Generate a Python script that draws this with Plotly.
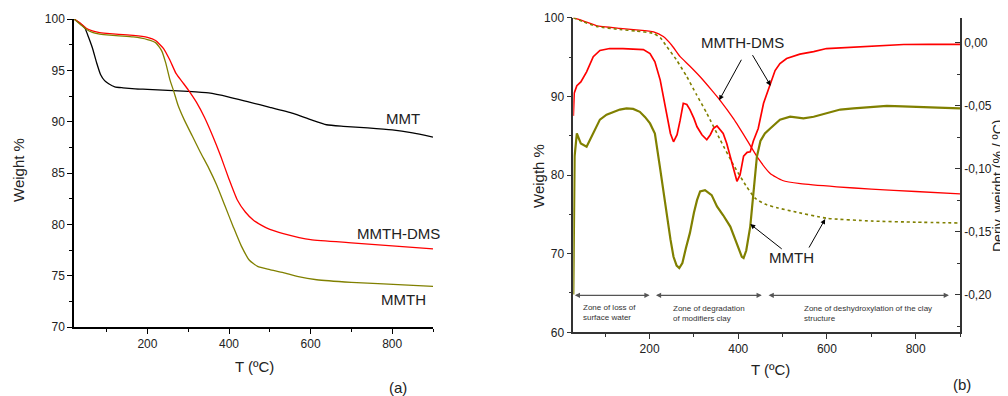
import plotly.graph_objects as go

# ---------------- Panel (a): TGA curves ----------------
T_MMT = [20, 40, 47, 55, 65, 75, 85, 95, 105, 120, 140, 170, 200, 250, 300, 350, 400, 450, 500, 557, 600, 639, 680, 740, 800, 850, 900]
W_MMT = [100, 99.4, 99.1, 98.3, 97.2, 95.8, 94.6, 94.0, 93.7, 93.4, 93.3, 93.2, 93.15, 93.05, 92.95, 92.8, 92.4, 91.9, 91.4, 90.8, 90.2, 89.7, 89.55, 89.4, 89.2, 88.9, 88.5]

T_DMS_a = [20, 35, 50, 65, 80, 100, 130, 165, 200, 220, 240, 255, 270, 285, 300, 320, 340, 360, 380, 400, 420, 440, 460, 480, 500, 533, 600, 700, 800, 900]
W_DMS_a = [100, 99.6, 99.1, 98.85, 98.7, 98.6, 98.5, 98.4, 98.2, 97.9, 97.1, 96.0, 94.7, 93.9, 93.1, 91.9, 90.4, 88.6, 86.6, 84.4, 82.4, 81.2, 80.4, 79.9, 79.5, 79.1, 78.5, 78.2, 77.9, 77.6]

T_MMTH_a = [20, 35, 50, 65, 80, 100, 130, 165, 200, 220, 235, 245, 255, 265, 275, 290, 310, 330, 350, 370, 390, 410, 430, 450, 470, 500, 533, 570, 615, 700, 778, 900]
W_MMTH_a = [100, 99.5, 99.0, 98.7, 98.55, 98.45, 98.35, 98.25, 98.0, 97.7, 96.9, 95.7, 94.1, 92.9, 91.6, 90.2, 88.6, 87.0, 85.5, 83.8, 81.8, 79.8, 77.9, 76.5, 75.9, 75.6, 75.3, 74.9, 74.6, 74.35, 74.2, 73.95]

# ---------------- Panel (b): TGA + DTG ----------------
T_DMS_tga = [28, 50, 80, 133, 170, 209, 231, 250, 269, 290, 314, 340, 359, 390, 419, 445, 472, 500, 540, 622, 700, 800, 900]
W_DMS_tga = [100, 99.6, 99.0, 98.65, 98.45, 98.2, 97.6, 96.5, 95.05, 93.9, 92.5, 90.8, 89.5, 87.1, 84.5, 82.1, 80.2, 79.3, 78.9, 78.5, 78.2, 77.9, 77.6]

T_MMTH_tga = [28, 50, 80, 133, 170, 209, 225, 239, 260, 284, 305, 329, 359, 390, 419, 438, 460, 490, 525, 600, 700, 800, 900]
W_MMTH_tga = [100, 99.5, 98.9, 98.5, 98.3, 98.0, 97.4, 96.3, 94.7, 92.5, 90.3, 87.85, 84.5, 81.2, 78.5, 77.05, 76.3, 75.8, 75.35, 74.5, 74.15, 74.0, 73.9]

T_DMS_dtg = [28, 30, 36, 45, 58, 73, 88, 110, 140, 186, 201, 212, 224, 239, 247, 254, 262, 269, 276, 284, 291, 300, 307, 318, 329, 337, 344, 352, 359, 366, 374, 386, 397, 404, 412, 420, 427, 434, 445, 457, 465, 472, 483, 494, 509, 539, 570, 599, 650, 698, 773, 830, 900]
D_DMS_dtg = [-0.058, -0.04, -0.034, -0.031, -0.023, -0.011, -0.006, -0.0045, -0.0045, -0.0053, -0.0085, -0.015, -0.0296, -0.059, -0.072, -0.0786, -0.073, -0.0614, -0.048, -0.049, -0.053, -0.060, -0.0667, -0.073, -0.077, -0.073, -0.068, -0.066, -0.069, -0.072, -0.080, -0.096, -0.110, -0.105, -0.090, -0.087, -0.0865, -0.078, -0.068, -0.048, -0.040, -0.032, -0.022, -0.0164, -0.0124, -0.009, -0.007, -0.0045, -0.0035, -0.0026, -0.0013, -0.0012, -0.0012]

T_MMTH_dtg = [28, 29, 31, 36, 45, 58, 66, 78, 88, 103, 118, 133, 148, 163, 178, 190, 201, 212, 223, 231, 239, 247, 254, 261, 267, 274, 282, 291, 300, 307, 314, 325, 340, 352, 366, 382, 395, 403, 408, 412, 418, 427, 435, 442, 450, 460, 472, 494, 517, 547, 570, 600, 630, 660, 700, 735, 770, 811, 850, 900]
D_MMTH_dtg = [-0.20, -0.16, -0.09, -0.072, -0.08, -0.0825, -0.077, -0.068, -0.061, -0.057, -0.0548, -0.053, -0.052, -0.0525, -0.0548, -0.059, -0.064, -0.072, -0.098, -0.118, -0.138, -0.156, -0.17, -0.177, -0.179, -0.175, -0.163, -0.151, -0.135, -0.125, -0.118, -0.117, -0.121, -0.13, -0.137, -0.146, -0.158, -0.166, -0.170, -0.171, -0.165, -0.146, -0.118, -0.0905, -0.078, -0.072, -0.068, -0.061, -0.0587, -0.060, -0.0587, -0.056, -0.053, -0.052, -0.051, -0.050, -0.0505, -0.0513, -0.0515, -0.052]

# tick labels
XTICKS = [200, 400, 600, 800]
YTICKS_A = [70, 75, 80, 85, 90, 95, 100]
YTICKS_B = [60, 70, 80, 90, 100]
DTG_TICKS = [0.0, -0.05, -0.10, -0.15, -0.20]
DTG_TICKTEXT = ["0,00", "-0,05", "-0,10", "-0,15", "-0,20"]

RED = "#ff0000"
OLIVE = "#808000"
FONT = "Liberation Sans, Arial, sans-serif"
W, H = 1008, 396
OFF = 8  # page body margin offset of the figure div


def px(x):
    return (x - OFF) / W


def py(y):
    return 1 - (y - OFF) / H


fig = go.Figure()

# Panel (a)
fig.add_trace(go.Scatter(x=T_MMT, y=W_MMT, xaxis="x", yaxis="y", mode="lines",
                         line=dict(color="black", width=1.3, shape="spline", smoothing=0.5)))
fig.add_trace(go.Scatter(x=T_DMS_a, y=W_DMS_a, xaxis="x", yaxis="y", mode="lines",
                         line=dict(color=RED, width=1.3, shape="spline", smoothing=0.5)))
fig.add_trace(go.Scatter(x=T_MMTH_a, y=W_MMTH_a, xaxis="x", yaxis="y", mode="lines",
                         line=dict(color=OLIVE, width=1.3, shape="spline", smoothing=0.5)))

# Panel (b) TGA
fig.add_trace(go.Scatter(x=T_DMS_tga, y=W_DMS_tga, xaxis="x2", yaxis="y2", mode="lines",
                         line=dict(color=RED, width=1.3, shape="spline", smoothing=0.5)))
fig.add_trace(go.Scatter(x=T_MMTH_tga, y=W_MMTH_tga, xaxis="x2", yaxis="y2", mode="lines",
                         line=dict(color=OLIVE, width=1.6, dash="dot", shape="spline", smoothing=0.5)))
# Panel (b) DTG
fig.add_trace(go.Scatter(x=T_DMS_dtg, y=D_DMS_dtg, xaxis="x2", yaxis="y3", mode="lines",
                         line=dict(color=RED, width=1.7)))
fig.add_trace(go.Scatter(x=T_MMTH_dtg, y=D_MMTH_dtg, xaxis="x2", yaxis="y3", mode="lines",
                         line=dict(color=OLIVE, width=2.2)))

tickfont = dict(family=FONT, size=12, color="#222")
common_x = dict(showgrid=False, zeroline=False, showline=True, ticks="outside", ticklen=5,
                tickwidth=1.2, tickfont=tickfont, automargin=False)

fig.update_layout(
    width=W, height=H,
    margin=dict(l=0, r=0, t=0, b=0, autoexpand=False),
    paper_bgcolor="white", plot_bgcolor="white",
    showlegend=False,
    font=dict(family=FONT, color="#222"),
    xaxis=dict(domain=[px(74), px(433)], range=[20, 900], tickvals=XTICKS, anchor="y",
               linecolor="black", linewidth=1.5, tickcolor="black",
               minor=dict(tickvals=[100, 300, 500, 700, 900], ticks="outside", ticklen=3, tickcolor="black"),
               **common_x),
    yaxis=dict(domain=[py(327), py(19)], range=[70, 100], tickvals=YTICKS_A, anchor="x",
               linecolor="black", linewidth=1.5, tickcolor="black",
               minor=dict(tickvals=[72.5, 77.5, 82.5, 87.5, 92.5, 97.5], ticks="outside", ticklen=3, tickcolor="black"),
               **common_x),
    xaxis2=dict(domain=[px(573.3), px(960)], range=[28, 900], tickvals=XTICKS, anchor="y2",
                linecolor="#333", linewidth=1.5, tickcolor="#333",
                minor=dict(tickvals=[100, 300, 500, 700, 900], ticks="outside", ticklen=3, tickcolor="#333"),
                **common_x),
    yaxis2=dict(domain=[py(332.3), py(17.7)], range=[60, 100], tickvals=YTICKS_B, anchor="x2",
                linecolor="#333", linewidth=1.5, tickcolor="#333",
                minor=dict(tickvals=[65, 75, 85, 95], ticks="outside", ticklen=3, tickcolor="#333"),
                **common_x),
    yaxis3=dict(overlaying="y2", side="right", anchor="x2", range=[-0.23, 0.02],
                tickvals=DTG_TICKS, ticktext=DTG_TICKTEXT, automargin=False,
                showgrid=False, zeroline=False, showline=True, linecolor="#333", linewidth=1.5,
                ticks="inside", ticklen=5, tickwidth=1.2, tickcolor="#333", tickfont=tickfont,
                minor=dict(tickvals=[-0.025, -0.075, -0.125, -0.175, -0.225], ticks="inside",
                           ticklen=3, tickcolor="#333")),
)

ann = []


def label(x, y, text, size=15, angle=0, xanchor="center", yanchor="middle", color="#222", align="center"):
    ann.append(dict(x=px(x), y=py(y), xref="paper", yref="paper", text=text, showarrow=False,
                    textangle=angle, xanchor=xanchor, yanchor=yanchor, align=align,
                    font=dict(family=FONT, size=size, color=color)))


# Panel (a) texts
label(18, 170, "Weight %", size=15, angle=-90)
label(254, 366, "T (ºC)", size=15)
label(398, 387, "(a)", size=15)
label(403, 119, "MMT", size=15)
label(398, 233, "MMTH-DMS", size=15)
label(403, 299, "MMTH", size=15)

# Panel (b) texts
label(538, 176, "Weigth %", size=15, angle=-90)
label(998, 186, "Deriv. weight (% / ºC)", size=14, angle=-90)
label(770, 369, "T (ºC)", size=15)
label(962, 384, "(b)", size=15)
label(742, 43, "MMTH-DMS", size=15)
label(791, 258, "MMTH", size=15)

# zone texts
label(581, 301, "Zone of loss of<br>surface water", size=8, xanchor="left", yanchor="top", align="left", color="#333")
label(671, 302, "Zone of degradation<br>of modifiers clay", size=8, xanchor="left", yanchor="top", align="left", color="#333")
label(802, 302, "Zone of deshydroxylation of the clay<br>structure", size=8, xanchor="left", yanchor="top", align="left", color="#333")


def arrow(xh, yh, xt, yt, yref):
    ann.append(dict(x=xh, y=yh, xref="x2", yref=yref, ax=xt, ay=yt, axref="pixel", ayref="pixel",
                    text="", showarrow=True, arrowhead=2, arrowsize=1, arrowwidth=1, arrowcolor="black"))


# pointer arrows (head on curve, tail as pixel offset)
arrow(357, 89.5, 23, -42, "y2")
arrow(473, -0.034, -19, -32, "y3")
arrow(427, -0.144, 33, 26, "y3")
arrow(596, 74.4, -17, 30, "y2")

# zone double arrows
for t0, t1 in [(28, 200), (211, 453), (465, 875)]:
    ann.append(dict(x=t1, y=64.7, xref="x2", yref="y2", ax=t0, ay=64.7, axref="x2", ayref="y2",
                    text="", showarrow=True, arrowhead=2, startarrowhead=2, arrowside="end+start",
                    arrowsize=0.8, startarrowsize=0.8, arrowwidth=1.3, arrowcolor="#555"))

fig.update_layout(annotations=ann)
fig.write_html("out.html")
